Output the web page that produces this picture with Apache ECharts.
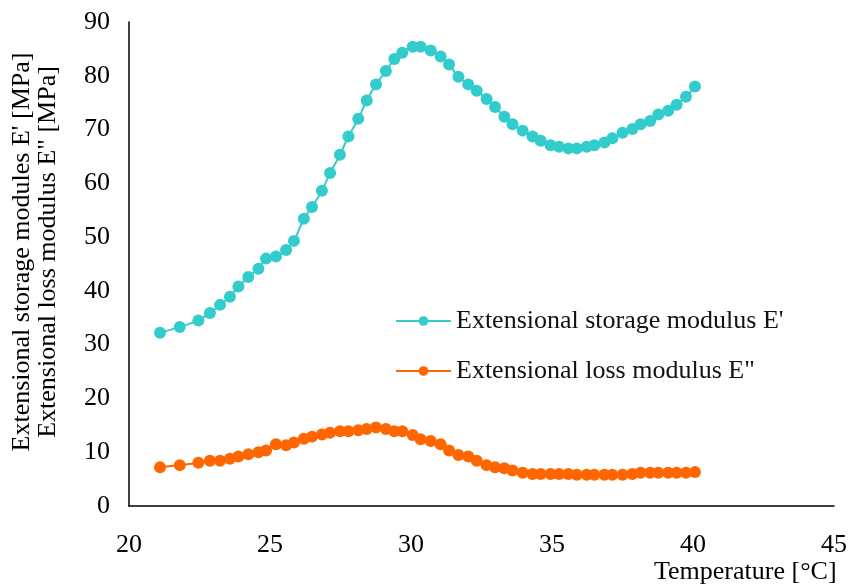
<!DOCTYPE html>
<html>
<head>
<meta charset="utf-8">
<script src="https://cdn.jsdelivr.net/npm/echarts@6/dist/echarts.min.js"></script>
<style>html,body{margin:0;padding:0;background:#fff;}#c{width:848px;height:584px;}</style>
</head>
<body>
<div id="c"></div>
<script>
const temperature = [21.1, 21.8, 22.46, 22.87, 23.23, 23.58, 23.88, 24.23, 24.59, 24.86, 25.21, 25.57, 25.85, 26.2, 26.49, 26.84, 27.13, 27.48, 27.78, 28.13, 28.43, 28.76, 29.11, 29.41, 29.69, 30.06, 30.34, 30.7, 31.05, 31.35, 31.68, 32.03, 32.33, 32.68, 32.98, 33.31, 33.6, 33.96, 34.31, 34.6, 34.95, 35.25, 35.58, 35.88, 36.23, 36.5, 36.86, 37.14, 37.5, 37.85, 38.14, 38.48, 38.77, 39.12, 39.42, 39.75, 40.07];
const storageModulus = [32.2, 33.3, 34.5, 35.9, 37.4, 38.9, 40.8, 42.6, 44.1, 46.0, 46.4, 47.6, 49.3, 53.4, 55.6, 58.6, 61.9, 65.3, 68.7, 72.0, 75.4, 78.4, 80.9, 83.1, 84.3, 85.4, 85.4, 84.7, 83.6, 82.1, 79.8, 78.4, 77.2, 75.7, 74.2, 72.4, 71.0, 69.8, 68.7, 67.9, 67.1, 66.8, 66.5, 66.5, 66.8, 67.1, 67.6, 68.4, 69.4, 70.1, 71.0, 71.6, 72.8, 73.5, 74.6, 76.1, 78.0];
const lossModulus = [7.2, 7.6, 8.05, 8.4, 8.4, 8.8, 9.2, 9.6, 10.0, 10.3, 11.5, 11.3, 11.8, 12.5, 12.9, 13.3, 13.6, 13.9, 13.9, 14.1, 14.3, 14.6, 14.3, 13.9, 13.9, 13.2, 12.4, 12.1, 11.5, 10.3, 9.5, 9.2, 8.4, 7.6, 7.2, 7.0, 6.6, 6.2, 5.95, 5.95, 5.95, 5.95, 5.95, 5.8, 5.8, 5.8, 5.8, 5.8, 5.8, 5.95, 6.2, 6.2, 6.2, 6.2, 6.2, 6.2, 6.3];
const seriesNames = ["Extensional storage modulus E'", 'Extensional loss modulus E"'];
const xAxisTitle = 'Temperature [°C]';
const yAxisTitle = "Extensional storage modules E' [MPa]\nExtensional loss modulus E\" [MPa]";

const FONT = 'Liberation Serif';
const FS = 26;
const chart = echarts.init(document.getElementById('c'), null, {renderer: 'canvas'});
chart.setOption({
  animation: false,
  backgroundColor: '#fff',
  textStyle: {fontFamily: FONT, color: '#000'},
  grid: {left: 129, right: 14, top: 22, bottom: 78, containLabel: false, outerBoundsMode: 'none'},
  legend: {
    orient: 'vertical', left: 390, top: 303,
    itemWidth: 55, itemHeight: 12, itemGap: 24,
    textStyle: {fontFamily: FONT, fontSize: FS, color: '#111'},
    data: seriesNames
  },
  xAxis: {
    type: 'value', min: 20, max: 45, interval: 5,
    axisLine: {lineStyle: {color: '#000', width: 1.5}},
    axisTick: {show: false}, splitLine: {show: false},
    axisLabel: {fontFamily: FONT, fontSize: FS, color: '#000', margin: 26},
    name: xAxisTitle, nameLocation: 'end', nameGap: -180,
    nameTextStyle: {fontFamily: FONT, fontSize: FS, color: '#000', align: 'left', verticalAlign: 'top', padding: [53, 0, 0, 0]}
  },
  yAxis: {
    type: 'value', min: 0, max: 90, interval: 10,
    axisLine: {show: true, lineStyle: {color: '#000', width: 1.5}},
    axisTick: {show: false}, splitLine: {show: false},
    axisLabel: {fontFamily: FONT, fontSize: FS, color: '#000', margin: 19},
    name: yAxisTitle, nameLocation: 'middle', nameRotate: 90, nameGap: 68,
    nameTextStyle: {fontFamily: FONT, fontSize: FS, color: '#000', lineHeight: 26, padding: [0, 0, 0, 24]}
  },
  series: [
    {
      name: seriesNames[0], type: 'line', smooth: 0.3,
      data: temperature.map((t, i) => [t, storageModulus[i]]),
      symbol: 'circle', symbolSize: 12,
      itemStyle: {color: '#33CCCC'}, lineStyle: {color: '#33CCCC', width: 2}
    },
    {
      name: seriesNames[1], type: 'line', smooth: 0.3,
      data: temperature.map((t, i) => [t, lossModulus[i]]),
      symbol: 'circle', symbolSize: 12,
      itemStyle: {color: '#FF6600'}, lineStyle: {color: '#FF6600', width: 2}
    }
  ]
});
</script>
</body>
</html>
